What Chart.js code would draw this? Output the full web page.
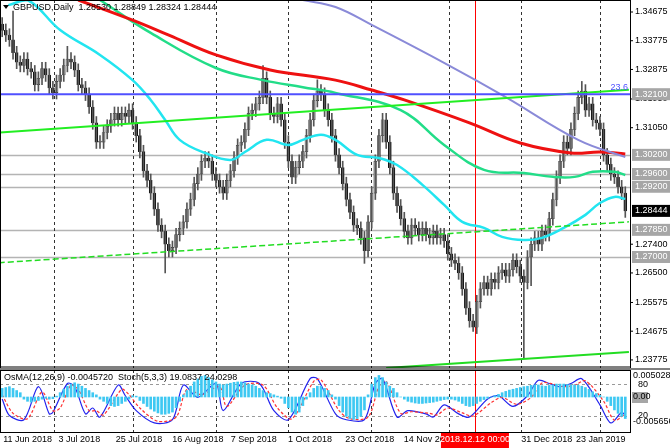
<!DOCTYPE html>
<html><head><meta charset="utf-8">
<script src="https://cdn.jsdelivr.net/npm/chart.js@4"></script>
<style>
html,body{margin:0;padding:0;background:#fff;width:670px;height:448px;overflow:hidden}
#main{position:absolute;left:0;top:0}
#sub{position:absolute;left:0;top:368px}
</style></head><body>
<canvas id="main" width="670" height="368"></canvas>
<canvas id="sub" width="670" height="80"></canvas>
<script>
// closes in pips above 1.2000, one per daily bar
const closes = [1410,1395,1380,1340,1310,1300,1320,1290,1280,1240,1260,1290,1270,1230,1215,1250,1270,1300,1320,1310,
 1285,1240,1230,1210,1170,1120,1060,1060,1090,1110,1130,1150,1130,1150,1140,1160,1120,1080,1030,970,
 940,900,850,800,780,740,720,730,770,790,810,850,880,930,960,1000,1010,1000,960,940,
 920,900,940,970,1010,1050,1060,1100,1150,1160,1180,1200,1260,1200,1150,1140,1180,1130,1060,1000,
 950,980,1000,1030,1080,1130,1190,1220,1210,1160,1130,1080,1020,980,930,880,840,800,790,760,
 720,810,900,1000,1080,1130,1060,980,900,860,820,780,760,800,790,770,790,770,760,780,
 760,770,750,710,690,680,650,600,540,500,480,560,600,620,600,630,620,650,660,640,
 660,690,670,640,620,700,740,760,740,780,770,820,880,950,1000,1060,1040,1100,1150,1200,
 1220,1160,1180,1130,1120,1100,1020,990,960,950,920,900,844];
const firstOpen = 1430;
// notable wick extremes [bar, high, low] in pips, others use a small default wick
const wickExtremes = [[18,1360,null],[3,1470,null],[72,1300,null],[87,1255,null],[105,1150,null],[100,null,680],
 [130,null,467],[144,null,384],[160,1250,null],[45,null,650],[123,null,690],[146,null,610]];
const defaultWick = 20;

const levels = [1.3020,1.2960,1.2920,1.2785,1.2700];
const blueLevel = 1.3210;
const priceTicks = [1.34675,1.33775,1.32875,1.31950,1.31050,1.27400,1.26500,1.25575,1.24675,1.23775];
const boxTicks = [1.3210,1.3020,1.2960,1.2920,1.2785,1.2700];
const lastPrice = 1.28444;

// moving averages, [bar, price]
const maCyan = [[1.7,1.3489],[7,1.3505],[16,1.3411],[27,1.3333],[36,1.3254],[41,1.3192],[45,1.3129],[49,1.3067],[56,1.3026],[63,1.3004],[67,1.3029],[73,1.3067],[79,1.3051],[83,1.3067],[88,1.3083],[92,1.3067],[98,1.3020],[104,1.3010],[109,1.2988],[116,1.2926],[122,1.2863],[127,1.2810],[133,1.2791],[138,1.2763],[144,1.2753],[149,1.2760],[155,1.2791],[161,1.2832],[165,1.2869],[169,1.2888],[172,1.2882]];
const maTeal = [[27,1.3505],[41,1.3402],[59,1.3292],[72,1.3254],[83,1.3232],[92,1.3214],[110,1.3160],[122,1.3051],[133,1.2973],[144,1.2963],[152,1.2951],[158,1.2951],[163,1.2967],[169,1.2967],[172,1.2957]];
const maRed = [[21,1.3505],[36,1.3442],[46,1.3395],[59,1.3333],[74,1.3286],[92,1.3254],[102,1.3223],[111,1.3192],[129,1.3120],[143,1.3057],[157,1.3026],[165,1.3029],[172,1.3023]];
const maBlue = [[83,1.3505],[92,1.3483],[102,1.3427],[123,1.3302],[139,1.3201],[159,1.3067],[172,1.3013]];
const trendUpper = [[-1,1.3090],[173,1.3224]];
const trendMid = [[-1,1.2682],[173,1.2810]];
const trendLow = [[106,1.2352],[173,1.2402]];

const gridBars = [14.2,36.1,58.9,78.9,101.7,123.3,143.3,165];
const redBar = 130.5;
const dateBars = [0,15.3,31.1,46.7,62.8,78.6,94.4,110.6,143,158.1];
const dateLabels = ['11 Jun 2018','3 Jul 2018','25 Jul 2018','16 Aug 2018','7 Sep 2018','1 Oct 2018','23 Oct 2018','14 Nov 20','31 Dec 2018','23 Jan 2019'];

// OsMA histogram, 1e-4 units per bar
const osma = [20,22,24,20,15,10,-5,-10,-12,-10,-8,-5,-3,-5,-4,2,10,18,25,30,33,30,25,20,15,10,5,
 -5,-10,-15,-20,-22,-20,-15,-10,-5,3,2,-8,-15,-22,-28,-33,-37,-40,-40,-38,-35,-25,-10,5,
 15,25,35,42,48,50,45,40,35,30,28,30,32,34,35,35,33,30,28,25,20,15,10,8,5,2,-3,
 -15,-25,-35,-40,-35,-20,-5,10,20,25,25,20,15,5,-5,-20,-35,-45,-50,-52,-50,-45,-30,
 5,30,45,50,45,35,25,20,10,0,-5,-10,-12,-14,-15,-15,-14,-13,-12,-10,-8,-6,-5,-5,-7,-10,-15,
 -20,-22,-20,-15,-10,-6,-3,0,3,6,10,13,16,18,20,22,24,25,27,28,28,26,25,
 27,28,30,30,30,29,28,28,27,25,22,18,12,8,4,0,-10,-20,-30,-38,-45,-50];
const stochMain = [[0,52],[2,21],[6,13],[10,75],[13,24],[14,27],[18,81],[20,75],[23,24],[25,35],[27,18],[32,78],[34,58],[37,30],[42,7],[47,13],[50,78],[54,55],[59,81],[61,30],[66,81],[71,81],[75,30],[79,13],[85,90],[87,90],[92,24],[95,13],[100,13],[103,81],[105,90],[109,18],[112,30],[117,24],[119,18],[122,41],[126,24],[129,18],[134,52],[137,58],[141,38],[145,58],[148,87],[151,81],[154,75],[157,81],[160,90],[165,41],[168,7],[171,27],[172,21]];
const stochSignal = [[0,60],[3,25],[7,15],[11,65],[14,30],[16,35],[19,78],[21,70],[24,30],[26,30],[28,22],[33,70],[35,60],[38,35],[43,10],[48,18],[51,70],[55,60],[60,75],[62,38],[67,78],[72,78],[76,35],[80,15],[86,85],[88,88],[93,30],[96,15],[101,18],[104,75],[106,85],[110,25],[113,28],[118,25],[120,22],[123,35],[127,26],[130,20],[135,45],[138,55],[142,42],[146,55],[149,82],[152,80],[155,75],[158,78],[161,86],[166,48],[169,12],[172,24]];

const P = v => 1.2 + v/10000;
const opens = closes.map((c,i)=> i ? closes[i-1] : firstOpen);
const bodies = [], wicks = [], bodyCol = [];
closes.forEach((c,i)=>{
  const o = opens[i];
  let hi = Math.max(o,c)+defaultWick, lo = Math.min(o,c)-defaultWick;
  const ex = wickExtremes.find(w=>w[0]===i);
  if(ex){ if(ex[1]!=null) hi = ex[1]; if(ex[2]!=null) lo = ex[2]; }
  wicks.push({x:i, y:[P(lo),P(hi)]});
  bodies.push({x:i, y:[P(o),P(c)]});
  bodyCol.push(c>=o ? '#cfcfcf' : '#000');
});
const pts = a => a.map(p=>({x:p[0], y:p[1]}));
const FONT = '9px "Liberation Sans"';
const X0 = -0.6, X1 = 173.3;

const line = (data,color,w,extra) => Object.assign({type:'line', data:pts(data), borderColor:color, borderWidth:w,
  pointRadius:0, tension:0.4, fill:false}, extra||{});

const mainOverlay = {
  id:'mainOverlay',
  beforeDatasetsDraw(c){
    const {ctx, chartArea:a, scales:{x,y}} = c;
    ctx.save();
    ctx.strokeStyle='#b4b4b4'; ctx.lineWidth=1.5;
    levels.forEach(l=>{const py=Math.round(y.getPixelForValue(l))+0.5;ctx.beginPath();ctx.moveTo(a.left,py);ctx.lineTo(a.right,py);ctx.stroke();});
    ctx.strokeStyle='#333'; ctx.lineWidth=1; ctx.setLineDash([3,3]);
    gridBars.forEach(g=>{const px=Math.round(x.getPixelForValue(g))+0.5;ctx.beginPath();ctx.moveTo(px,a.top);ctx.lineTo(px,a.bottom);ctx.stroke();});
    ctx.setLineDash([]);
    ctx.strokeStyle='#ff0000';
    const rx=Math.round(x.getPixelForValue(redBar))+0.5;
    ctx.beginPath();ctx.moveTo(rx,a.top);ctx.lineTo(rx,a.bottom);ctx.stroke();
    ctx.restore();
  },
  afterDatasetsDraw(c){
    const {ctx, chartArea:a, scales:{y}} = c;
    ctx.save();
    ctx.strokeStyle='#5050ff'; ctx.lineWidth=2;
    const by=y.getPixelForValue(blueLevel);
    ctx.beginPath();ctx.moveTo(a.left,by);ctx.lineTo(a.right,by);ctx.stroke();
    ctx.font=FONT; ctx.fillStyle='#5050ff'; ctx.textAlign='right'; ctx.textBaseline='bottom';
    ctx.fillText('23.6',a.right-2,by-2);
    ctx.strokeStyle='#000'; ctx.lineWidth=1;
    ctx.strokeRect(a.left+0.5,a.top+0.5,a.right-a.left,a.bottom-a.top);
    ctx.beginPath();ctx.moveTo(a.left,a.bottom-1);ctx.lineTo(a.right,a.bottom-1);ctx.stroke();
    ctx.textAlign='left'; ctx.textBaseline='middle'; ctx.fillStyle='#000';
    priceTicks.forEach(t=>{const py=y.getPixelForValue(t);
      ctx.beginPath();ctx.moveTo(a.right,py);ctx.lineTo(a.right+3,py);ctx.stroke();
      ctx.fillText(t.toFixed(5),a.right+5,py);});
    boxTicks.forEach(t=>{const py=y.getPixelForValue(t);
      ctx.fillStyle='#a6a6a6';ctx.fillRect(a.right+2,py-6,38,12);
      ctx.fillStyle='#fff';ctx.fillText(t.toFixed(5),a.right+5,py);});
    const ly=y.getPixelForValue(lastPrice);
    ctx.fillStyle='#000';ctx.fillRect(a.right+2,ly-6,38,12);
    ctx.fillStyle='#fff';ctx.fillText(lastPrice.toFixed(5),a.right+5,ly);
    ctx.fillStyle='#000'; ctx.textBaseline='middle';
    ctx.beginPath();ctx.moveTo(3,5);ctx.lineTo(9,5);ctx.lineTo(6,9);ctx.closePath();ctx.fill();
    ctx.fillText('GBPUSD,Daily  1.28530 1.28849 1.28324 1.28444',13,8);
    ctx.restore();
  }
};

new Chart(document.getElementById('main'), {
  data:{datasets:[
    line(trendLow,'#22dd22',2),
    line(trendMid,'#22dd22',1.5,{borderDash:[6,3]}),
    line(trendUpper,'#22ee22',2),
    line(maBlue,'#8a8ad8',2),
    line(maRed,'#ee1111',3),
    line(maTeal,'#22dd88',2.5),
    line(maCyan,'#22e5f0',2.5),
    {type:'bar', data:wicks, backgroundColor:'#555', barThickness:1, grouped:false},
    {type:'bar', data:bodies, backgroundColor:bodyCol, borderColor:'#222', borderWidth:0.6, borderSkipped:false, barThickness:3, minBarLength:1, grouped:false}
  ]},
  options:{responsive:false, animation:false, events:[],
    layout:{padding:{left:0,right:40,top:0,bottom:0}},
    plugins:{legend:{display:false},tooltip:{enabled:false}},
    scales:{
      x:{type:'linear', min:X0, max:X1, display:false, offset:false},
      y:{min:1.23522, max:1.35051, display:false}
    }},
  plugins:[mainOverlay]
});

const subOverlay = {
  id:'subOverlay',
  beforeDatasetsDraw(c){
    const {ctx, chartArea:a, scales:{x,ys}} = c;
    ctx.save();
    ctx.strokeStyle='#999'; ctx.lineWidth=1; ctx.setLineDash([3,3]);
    [80,20].forEach(v=>{const py=Math.round(ys.getPixelForValue(v))+0.5;ctx.beginPath();ctx.moveTo(a.left,py);ctx.lineTo(a.right,py);ctx.stroke();});
    ctx.strokeStyle='#333';
    gridBars.forEach(g=>{const px=Math.round(x.getPixelForValue(g))+0.5;ctx.beginPath();ctx.moveTo(px,a.top);ctx.lineTo(px,a.bottom);ctx.stroke();});
    ctx.setLineDash([]);
    ctx.strokeStyle='#ff0000';
    const rx=Math.round(x.getPixelForValue(redBar))+0.5;
    ctx.beginPath();ctx.moveTo(rx,a.top);ctx.lineTo(rx,a.bottom);ctx.stroke();
    ctx.restore();
  },
  afterDatasetsDraw(c){
    const {ctx, chartArea:a, scales:{x,yh,ys}} = c;
    ctx.save();
    ctx.strokeStyle='#000'; ctx.lineWidth=1;
    ctx.strokeRect(a.left+0.5,a.top+0.5,a.right-a.left,a.bottom-a.top);
    ctx.beginPath();ctx.moveTo(0,1);ctx.lineTo(670,1);ctx.stroke();
    ctx.font=FONT; ctx.textBaseline='middle'; ctx.textAlign='left'; ctx.fillStyle='#000';
    ctx.fillText('OsMA(12,26,9) -0.0045720  Stoch(5,3,3) 19.0837 24.0298',4,a.top+8);
    ctx.fillText('0.0050285',a.right+3,yh.getPixelForValue(0.0050285));
    ctx.fillText('-0.005656',a.right+3,yh.getPixelForValue(-0.005656));
    ctx.fillText('80',a.right+8,ys.getPixelForValue(80));
    ctx.fillText('20',a.right+8,ys.getPixelForValue(20));
    const zy=yh.getPixelForValue(0);
    ctx.fillStyle='#a6a6a6';ctx.fillRect(a.right+2,zy-5,16,11);
    ctx.fillStyle='#000';ctx.fillText('0.00',a.right+3,zy);
    ctx.textBaseline='top';
    dateBars.forEach((b,i)=>ctx.fillText(dateLabels[i],x.getPixelForValue(b)+1,a.bottom+3));
    const rx=x.getPixelForValue(redBar);
    ctx.fillStyle='#ff0000';ctx.fillRect(rx-34,a.bottom+1,68,15);
    ctx.fillStyle='#fff';ctx.textAlign='center';ctx.fillText('2018.12.12 00:00',rx,a.bottom+3);
    ctx.restore();
  }
};

new Chart(document.getElementById('sub'), {
  data:{datasets:[
    {type:'bar', data:osma.map((v,i)=>({x:i,y:v/10000})), yAxisID:'yh', backgroundColor:'#3ec8f2', barThickness:2, grouped:false},
    line(stochSignal,'#ff3333',1.2,{yAxisID:'ys', borderDash:[3,2], tension:0.3}),
    line(stochMain,'#2222ee',1.2,{yAxisID:'ys', tension:0.3})
  ]},
  options:{responsive:false, animation:false, events:[],
    layout:{padding:{left:0,right:40,top:2,bottom:16}},
    plugins:{legend:{display:false},tooltip:{enabled:false}},
    scales:{
      x:{type:'linear', min:X0, max:X1, display:false, offset:false},
      yh:{min:-0.00813, max:0.00627, display:false},
      ys:{min:-10, max:106.3, display:false}
    }},
  plugins:[subOverlay]
});
</script>
</body></html>
